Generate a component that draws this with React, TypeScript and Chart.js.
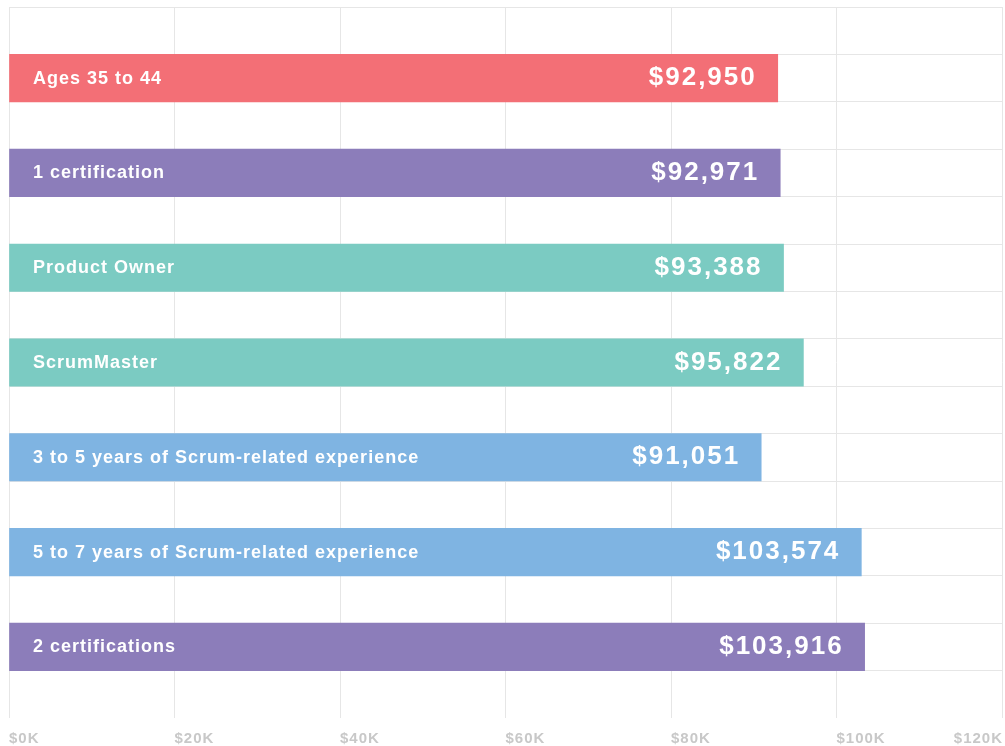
import React, { useEffect, useRef } from "react";
import { Chart, registerables } from "chart.js";

Chart.register(...registerables);

const categories = [
  "Ages 35 to 44",
  "1 certification",
  "Product Owner",
  "ScrumMaster",
  "3 to 5 years of Scrum-related experience",
  "5 to 7 years of Scrum-related experience",
  "2 certifications",
];
// value labels as printed on the bars
const salaryLabels = [92950, 92971, 93388, 95822, 91051, 103574, 103916];
// bar lengths
const barValues = [92900, 93200, 93600, 96000, 90900, 103000, 103400];
const barColors = ["#f36f76", "#8c7dba", "#7bcbc2", "#7bcbc2", "#7fb4e2", "#7fb4e2", "#8c7dba"];
const xTickValues = [0, 20000, 40000, 60000, 80000, 100000, 120000];
const xTickLabels = ["$0K", "$20K", "$40K", "$60K", "$80K", "$100K", "$120K"];

const FONT = "'Liberation Sans', Arial, sans-serif";
const GRID = "#e6e6e6";

const labelPlugin = {
  id: "barLabels",
  afterDatasetsDraw(chart: any) {
    const ctx = chart.ctx as CanvasRenderingContext2D;
    const meta = chart.getDatasetMeta(0);
    const area = chart.chartArea;
    ctx.save();
    ctx.fillStyle = "#ffffff";
    meta.data.forEach((el: any, i: number) => {
      const cy = el.y;
      ctx.font = `bold 18px ${FONT}`;
      (ctx as any).letterSpacing = "1px";
      ctx.textAlign = "left";
      ctx.textBaseline = "alphabetic";
      ctx.fillText(categories[i], area.left + 24, cy + 5.5);
      ctx.font = `bold 26px ${FONT}`;
      (ctx as any).letterSpacing = "2px";
      ctx.textAlign = "right";
      ctx.fillText("$" + salaryLabels[i].toLocaleString("en-US"), el.x - 21, cy + 7);
    });
    const xs = chart.scales.x;
    ctx.font = `bold 15px ${FONT}`;
    (ctx as any).letterSpacing = "1px";
    ctx.fillStyle = "#c8c8c8";
    xTickValues.forEach((v, i) => {
      const px = xs.getPixelForValue(v);
      const last = i === xTickValues.length - 1;
      ctx.textAlign = last ? "right" : "left";
      ctx.fillText(xTickLabels[i], last ? px + 1 : px, 743);
    });
    ctx.restore();
  },
};

export default function App() {
  const ref = useRef<HTMLCanvasElement | null>(null);
  useEffect(() => {
    document.body.style.margin = "0";
    if (!ref.current) return;
    const n = categories.length;
    const chart = new Chart(ref.current, {
      type: "bar",
      data: {
        datasets: [
          {
            data: barValues.map((v, i) => ({ x: v, y: i })),
            backgroundColor: barColors,
            borderWidth: 0,
            categoryPercentage: 1,
            barPercentage: 1,
          } as any,
        ],
      },
      options: {
        indexAxis: "y",
        responsive: false,
        animation: false,
        layout: { padding: { left: 9, top: 7, right: 3, bottom: 28 } },
        plugins: { legend: { display: false }, tooltip: { enabled: false } },
        scales: {
          x: {
            type: "linear",
            min: 0,
            max: 120000,
            ticks: { display: false, stepSize: 20000 },
            grid: { color: GRID, drawTicks: false, lineWidth: 1 },
            border: { display: false },
          },
          y: {
            type: "linear",
            reverse: true,
            offset: false,
            min: -0.75,
            max: n - 0.25,
            afterBuildTicks: (scale: any) => {
              const t = [];
              for (let i = 0; i <= 2 * n; i++) t.push({ value: -0.75 + i * 0.5 });
              scale.ticks = t;
            },
            ticks: { display: false },
            grid: { color: GRID, drawTicks: false, lineWidth: 1, offset: false },
            border: { display: false },
          },
        },
      } as any,
      plugins: [labelPlugin],
    });
    return () => chart.destroy();
  }, []);
  return (
    <div style={{ width: 1005, height: 746 }}>
      <canvas ref={ref} width={1005} height={746} style={{ display: "block" }} />
    </div>
  );
}
